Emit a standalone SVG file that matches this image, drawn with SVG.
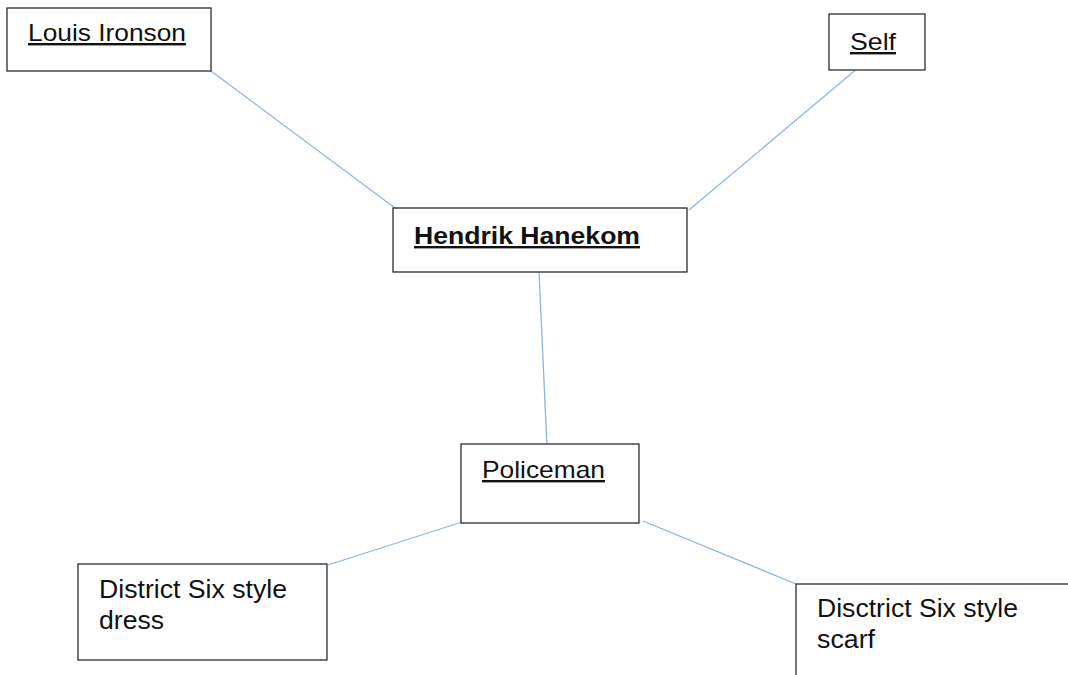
<svg xmlns="http://www.w3.org/2000/svg" width="1068" height="675" viewBox="0 0 1068 675">
  <style>
    .box { fill: #ffffff; stroke: #2b2b2b; stroke-width: 1.3; }
    .link { stroke: #8fb6e0; stroke-width: 1.3; fill: none; }
    .lbl { font-family: "Liberation Sans", Arial, sans-serif; font-size: 24px; fill: #111; }
    .big { font-size: 25.5px; }
    .u { text-decoration: underline; }
    .b { font-weight: bold; }
  </style>
  <rect width="1068" height="675" fill="#ffffff"/>

  <g id="connectors">
    <line class="link" x1="211" y1="71" x2="395" y2="208"/>
    <line class="link" x1="858" y1="68" x2="689" y2="210"/>
    <line class="link" x1="539" y1="272" x2="547" y2="447"/>
    <line class="link" x1="462" y1="522" x2="328" y2="565"/>
    <line class="link" x1="643" y1="521" x2="796" y2="584"/>
  </g>

  <g id="louis-ironson">
    <rect class="box" x="7" y="8" width="204" height="63"/>
    <text class="lbl u" x="28" y="41" textLength="158" lengthAdjust="spacingAndGlyphs">Louis Ironson</text>
  </g>

  <g id="self">
    <rect class="box" x="829" y="14" width="96" height="56"/>
    <text class="lbl u" x="850" y="50" textLength="46" lengthAdjust="spacingAndGlyphs">Self</text>
  </g>

  <g id="hendrik-hanekom">
    <rect class="box" x="393" y="208" width="294" height="64"/>
    <text class="lbl u b" x="414" y="244" textLength="226" lengthAdjust="spacingAndGlyphs">Hendrik Hanekom</text>
  </g>

  <g id="policeman">
    <rect class="box" x="461" y="444" width="178" height="79"/>
    <text class="lbl u" x="482" y="478" textLength="123" lengthAdjust="spacingAndGlyphs">Policeman</text>
  </g>

  <g id="dress">
    <rect class="box" x="78" y="564" width="249" height="96"/>
    <text class="lbl big" x="99" y="598" textLength="188" lengthAdjust="spacingAndGlyphs">District Six style</text>
    <text class="lbl big" x="99" y="629" textLength="65" lengthAdjust="spacingAndGlyphs">dress</text>
  </g>

  <g id="scarf">
    <rect class="box" x="796" y="584" width="290" height="110"/>
    <text class="lbl big" x="817" y="617" textLength="201" lengthAdjust="spacingAndGlyphs">Disctrict Six style</text>
    <text class="lbl big" x="817" y="648" textLength="58" lengthAdjust="spacingAndGlyphs">scarf</text>
  </g>
</svg>
